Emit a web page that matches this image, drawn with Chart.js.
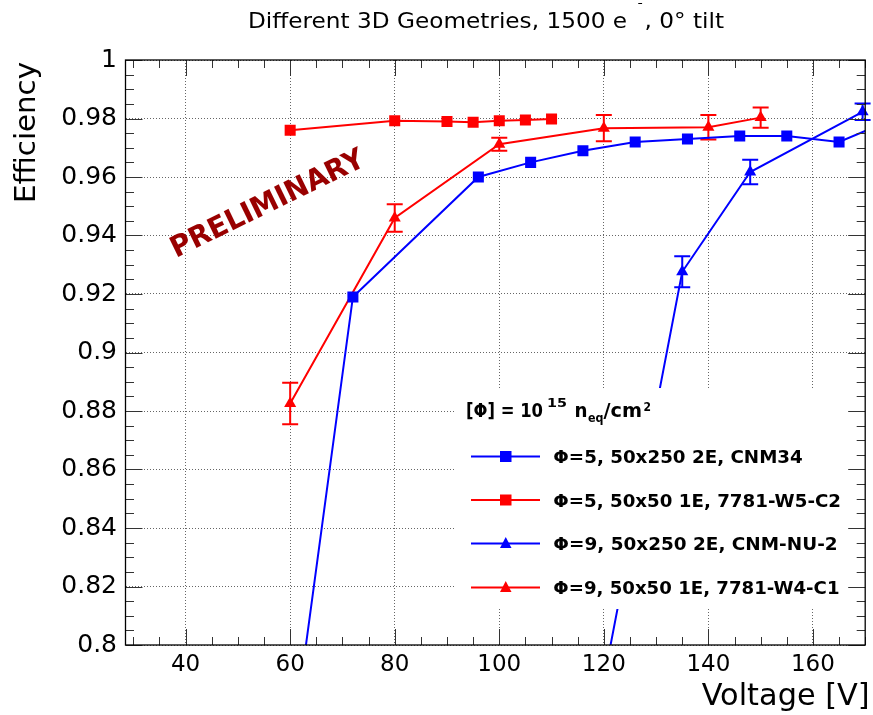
<!DOCTYPE html>
<html><head><meta charset="utf-8">
<script src="https://cdn.jsdelivr.net/npm/chart.js@4.4.1/dist/chart.umd.min.js"></script>
<style>html,body{margin:0;padding:0;background:#fff}</style>
</head><body>
<canvas id="c" width="873" height="715"></canvas>
<script>
// ---- axis tick labels ----
const xTickValues = [40, 60, 80, 100, 120, 140, 160];
const yTickValues = [0.8, 0.82, 0.84, 0.86, 0.88, 0.9, 0.92, 0.94, 0.96, 0.98, 1.0];

// ---- series (Voltage [V] vs Efficiency) ----
const cnm34Voltage = [60, 72, 96, 106, 116, 126, 136, 146, 155, 165, 175];
const cnm34Eff     = [0.760, 0.919, 0.960, 0.965, 0.969, 0.972, 0.973, 0.974, 0.974, 0.972, 0.9795];

const w5c2Voltage = [60, 80, 90, 95, 100, 105, 110];
const w5c2Eff     = [0.976, 0.9792, 0.979, 0.9787, 0.9792, 0.9795, 0.9798];

const cnmnu2Voltage = [120, 135, 148, 169.5];
const cnmnu2Eff     = [0.788, 0.9276, 0.9617, 0.9823];
const cnmnu2Err     = [0.005, 0.0053, 0.0042, 0.0028];

const w4c1Voltage = [60, 80, 100, 120, 140, 150];
const w4c1Eff     = [0.8826, 0.946, 0.9712, 0.9767, 0.977, 0.9803];
const w4c1Err     = [0.0071, 0.0047, 0.0022, 0.0045, 0.0042, 0.0035];

const seriesLabels = ['Φ=5, 50x250 2E, CNM34', 'Φ=5, 50x50 1E, 7781-W5-C2',
                      'Φ=9, 50x250 2E, CNM-NU-2', 'Φ=9, 50x50 1E, 7781-W4-C1'];

const BLUE = '#0000ff', RED = '#ff0000';
const FONT = 'DejaVu Sans';

function pts(v, e) { return v.map((x, i) => ({ x: x, y: e[i] })); }

function fitText(ctx, text, x, y, width, font, color, angle) {
  ctx.save();
  ctx.font = font; ctx.fillStyle = color;
  ctx.textAlign = 'left'; ctx.textBaseline = 'alphabetic';
  const m = ctx.measureText(text).width;
  ctx.translate(x, y);
  if (angle) ctx.rotate(angle);
  ctx.scale(width / m, 1);
  ctx.fillText(text, 0, 0);
  ctx.restore();
}

function drawTitle(ctx) {
  const f = '20.5px "' + FONT + '"', fs = '13px "' + FONT + '"';
  const p1 = 'Different 3D Geometries, 1500 e', p3 = ', 0° tilt';
  ctx.save();
  ctx.font = f;
  const w1 = ctx.measureText(p1).width, w3 = ctx.measureText(p3).width;
  const gap = 20.5 * 0.45, sup = 20.5 * 0.3;
  const total = w1 + gap + sup + w3;
  const left = 248, right = 724, k = (right - left) / total;
  ctx.translate(left, 28);
  ctx.scale(k, 1);
  ctx.fillStyle = '#000'; ctx.textBaseline = 'alphabetic'; ctx.textAlign = 'left';
  ctx.fillText(p1, 0, 0);
  ctx.font = fs;
  ctx.fillText('-', w1 + gap, -21);
  ctx.font = f;
  ctx.fillText(p3, w1 + gap + sup, 0);
  ctx.restore();
}

const decor = {
  id: 'rootDecor',
  beforeDatasetsDraw(chart) {
    const ctx = chart.ctx, xs = chart.scales.x, ys = chart.scales.y, a = chart.chartArea;
    ctx.save();
    ctx.beginPath();
    ctx.rect(a.left, a.top, a.right - a.left + 10, a.bottom - a.top);
    ctx.clip();
    chart.data.datasets.forEach(ds => {
      if (!ds.errors) return;
      ctx.strokeStyle = ds.borderColor; ctx.lineWidth = 2;
      ds.data.forEach((p, i) => {
        const px = xs.getPixelForValue(p.x);
        const y1 = ys.getPixelForValue(p.y + ds.errors[i]);
        const y2 = ys.getPixelForValue(p.y - ds.errors[i]);
        ctx.beginPath();
        ctx.moveTo(px, y1); ctx.lineTo(px, y2);
        ctx.moveTo(px - 8, y1); ctx.lineTo(px + 8, y1);
        ctx.moveTo(px - 8, y2); ctx.lineTo(px + 8, y2);
        ctx.stroke();
      });
    });
    ctx.restore();
  },
  afterDatasetsDraw(chart) {
    const ctx = chart.ctx, xs = chart.scales.x, ys = chart.scales.y, a = chart.chartArea;
    // PRELIMINARY
    fitText(ctx, 'PRELIMINARY', 176, 258, 212, 'bold 29px "' + FONT + '"', '#990000', -26 * Math.PI / 180);

    // legend box
    ctx.save();
    ctx.fillStyle = '#ffffff';
    ctx.fillRect(455, 388, 414, 221);
    ctx.restore();
    // header
    const hb = 'bold 19px "' + FONT + '"', hs = 'bold 12.5px "' + FONT + '"';
    fitText(ctx, '[Φ] = 10', 466, 417, 77, hb, '#000');
    fitText(ctx, '15', 547, 407, 20, hs, '#000');
    fitText(ctx, 'n', 574.5, 417, 13, hb, '#000');
    fitText(ctx, 'eq', 588, 422, 15.5, hs, '#000');
    fitText(ctx, '/cm', 603.5, 417, 38.5, hb, '#000');
    fitText(ctx, '2', 643.5, 411, 7.5, hs, '#000');
    // entries
    const rowY = [456.5, 500, 543.5, 587.5];
    const widths = [249.5, 287.7, 284.3, 286.2];
    chart.data.datasets.forEach((ds, i) => {
      const y = rowY[i];
      ctx.save();
      ctx.strokeStyle = ds.borderColor; ctx.lineWidth = 2;
      ctx.beginPath(); ctx.moveTo(471, y); ctx.lineTo(540, y); ctx.stroke();
      ctx.fillStyle = ds.borderColor;
      if (ds.pointStyle === 'rect') {
        ctx.fillRect(500, y - 5.5, 11.5, 11);
      } else {
        ctx.beginPath();
        ctx.moveTo(505.75, y - 6.5); ctx.lineTo(511.5, y + 4.5); ctx.lineTo(500, y + 4.5);
        ctx.closePath(); ctx.fill();
      }
      ctx.restore();
      fitText(ctx, ds.label, 553.3, y + 6.5, widths[i], 'bold 18px "' + FONT + '"', '#000');
    });

    // inward ticks on all four sides
    ctx.save();
    ctx.strokeStyle = '#333'; ctx.lineWidth = 1;
    ctx.beginPath();
    for (let v = 30; v <= 170.001; v += 5) {
      if (v < xs.min || v > xs.max) continue;
      const px = Math.round(xs.getPixelForValue(v)) + 0.5;
      const len = (Math.abs(v % 20) < 1e-6) ? 16 : 8;
      ctx.moveTo(px, a.bottom); ctx.lineTo(px, a.bottom - len);
      ctx.moveTo(px, a.top); ctx.lineTo(px, a.top + len);
    }
    for (let k = 0; k <= 40; k++) {
      const v = 0.8 + k * 0.005;
      const py = Math.round(ys.getPixelForValue(v)) + 0.5;
      const len = (k % 4 === 0) ? 17 : 8.5;
      ctx.moveTo(a.left, py); ctx.lineTo(a.left + len, py);
      ctx.moveTo(a.right, py); ctx.lineTo(a.right - len, py);
    }
    ctx.stroke();
    // frame
    ctx.strokeStyle = '#000'; ctx.lineWidth = 1.3;
    ctx.strokeRect(a.left, a.top, a.right - a.left, a.bottom - a.top);
    ctx.restore();
  },
  afterDraw(chart) {
    const ctx = chart.ctx;
    drawTitle(ctx);
    // axis titles
    fitText(ctx, 'Voltage [V]', 701.7, 705, 168, '30px "' + FONT + '"', '#000');
    fitText(ctx, 'Efficiency', 35, 203, 141, '29px "' + FONT + '"', '#000', -Math.PI / 2);
  }
};

new Chart(document.getElementById('c'), {
  type: 'scatter',
  data: {
    datasets: [
      { label: seriesLabels[0], data: pts(cnm34Voltage, cnm34Eff), showLine: true,
        borderColor: BLUE, backgroundColor: BLUE, borderWidth: 2, pointStyle: 'rect',
        pointRadius: 7.8, pointBorderWidth: 0, clip: 0 },
      { label: seriesLabels[1], data: pts(w5c2Voltage, w5c2Eff), showLine: true,
        borderColor: RED, backgroundColor: RED, borderWidth: 2, pointStyle: 'rect',
        pointRadius: 7.8, pointBorderWidth: 0, clip: 0 },
      { label: seriesLabels[2], data: pts(cnmnu2Voltage, cnmnu2Eff), errors: cnmnu2Err, showLine: true,
        borderColor: BLUE, backgroundColor: BLUE, borderWidth: 2, pointStyle: 'triangle',
        pointRadius: 7, pointBorderWidth: 0, clip: { left: 0, top: 0, right: 10, bottom: 0 } },
      { label: seriesLabels[3], data: pts(w4c1Voltage, w4c1Eff), errors: w4c1Err, showLine: true,
        borderColor: RED, backgroundColor: RED, borderWidth: 2, pointStyle: 'triangle',
        pointRadius: 7, pointBorderWidth: 0, clip: 0 }
    ]
  },
  options: {
    responsive: false, animation: false, devicePixelRatio: 1,
    layout: { padding: { left: 0, right: 3, top: 60, bottom: 0 } },
    plugins: { legend: { display: false }, title: { display: false }, tooltip: { enabled: false } },
    elements: { line: { tension: 0 } },
    scales: {
      x: {
        type: 'linear', min: 28.5, max: 170,
        afterBuildTicks: s => { s.ticks = xTickValues.map(v => ({ value: v })); },
        afterFit: s => { s.height = 70; },
        grid: { color: '#666', lineWidth: 1, drawTicks: false },
        border: { display: false, dash: [1, 2] },
        ticks: { font: { family: FONT, size: 23 }, color: '#000', padding: 6, maxRotation: 0,
                 autoSkip: false, callback: v => String(v) }
      },
      y: {
        type: 'linear', min: 0.8, max: 1.0,
        afterBuildTicks: s => { s.ticks = yTickValues.map(v => ({ value: v })); },
        afterFit: s => { s.width = 125.5; },
        grid: { color: '#666', lineWidth: 1, drawTicks: false },
        border: { display: false, dash: [1, 2] },
        ticks: { font: { family: FONT, size: 25 }, color: '#000', padding: 8.5, autoSkip: false,
                 callback: v => String(Number(v.toFixed(2))) }
      }
    }
  },
  plugins: [decor]
});
</script>
</body></html>
